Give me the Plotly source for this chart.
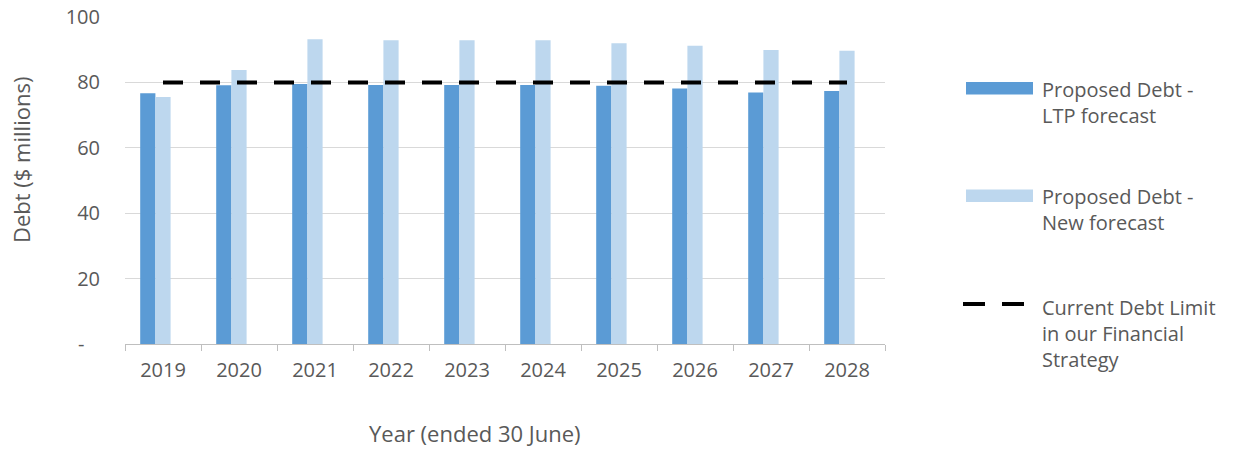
import plotly.graph_objects as go

years = ["2019", "2020", "2021", "2022", "2023", "2024", "2025", "2026", "2027", "2028"]
ltp_forecast = [76.7, 79.1, 79.5, 79.2, 79.2, 79.2, 79.0, 78.1, 76.9, 77.4]
new_forecast = [75.5, 83.8, 93.2, 92.9, 92.9, 92.9, 92.0, 91.2, 89.9, 89.7]
debt_limit = [80, 80, 80, 80, 80, 80, 80, 80, 80, 80]
y_ticks = [0, 20, 40, 60, 80, 100]
y_ticktext = ["-\u00a0\u00a0\u00a0", "20", "40", "60", "80", "100"]

DARK = "#5B9BD5"
LIGHT = "#BDD7EE"
TEXT = "#595959"
FONT = "Open Sans"

fig = go.Figure()
fig.add_trace(go.Bar(x=years, y=ltp_forecast, name="Proposed Debt - LTP forecast",
                     marker=dict(color=DARK, line=dict(width=0)), width=0.2, offset=-0.3))
fig.add_trace(go.Bar(x=years, y=new_forecast, name="Proposed Debt - New forecast",
                     marker=dict(color=LIGHT, line=dict(width=0)), width=0.2, offset=-0.1))
fig.add_trace(go.Scatter(x=years, y=debt_limit, mode="lines",
                         name="Current Debt Limit in our Financial Strategy",
                         line=dict(color="black", width=4, dash="20px,17px")))

fig.update_layout(
    width=1238, height=450,
    margin=dict(l=125, r=353, t=17, b=106, autoexpand=False),
    paper_bgcolor="white", plot_bgcolor="white",
    showlegend=False,
    font=dict(family=FONT, color=TEXT, size=20),
    xaxis=dict(type="category", showline=True, linecolor="#BFBFBF", linewidth=1,
               ticks="outside", tickson="boundaries", ticklen=6, tickcolor="#BFBFBF",
               tickfont=dict(size=20, color=TEXT), showgrid=False, ticklabelstandoff=8,
               automargin=False),
    yaxis=dict(range=[0, 100], tickvals=y_ticks, ticktext=y_ticktext, showgrid=True,
               gridcolor="#D9D9D9", gridwidth=1, zeroline=False, showline=False,
               ticks="", ticklabelstandoff=24, tickfont=dict(size=20, color=TEXT),
               automargin=False),
)

def px_x(p):
    return (p - 125) / 760.0

def px_y(p):
    return (344 - p) / 327.0

# axis titles
fig.add_annotation(text="Year (ended 30 June)", xref="paper", yref="paper",
                   x=px_x(475), y=px_y(433), xanchor="center", yanchor="middle", showarrow=False,
                   font=dict(size=22, color=TEXT, family=FONT))
fig.add_annotation(text="Debt ($ millions)", xref="paper", yref="paper",
                   x=px_x(21), y=px_y(160), xanchor="center", yanchor="middle", textangle=-90,
                   showarrow=False, font=dict(size=22, color=TEXT, family=FONT))

# manual legend
fig.add_shape(type="rect", xref="paper", yref="paper", x0=px_x(966), x1=px_x(1033),
              y0=px_y(94.5), y1=px_y(82), fillcolor=DARK, line=dict(width=0))
fig.add_shape(type="rect", xref="paper", yref="paper", x0=px_x(966), x1=px_x(1033),
              y0=px_y(202), y1=px_y(189.5), fillcolor=LIGHT, line=dict(width=0))
fig.add_shape(type="line", xref="paper", yref="paper", x0=px_x(963), x1=px_x(1025),
              y0=px_y(304), y1=px_y(304), line=dict(color="black", width=4, dash="22px,17px"))

legend_texts = [
    ("Proposed Debt -<br>LTP forecast", 102),
    ("Proposed Debt -<br>New forecast", 210),
    ("Current Debt Limit<br>in our Financial<br>Strategy", 333),
]
for txt, yc in legend_texts:
    fig.add_annotation(text=txt, xref="paper", yref="paper", x=px_x(1040), y=px_y(yc),
                       xanchor="left", yanchor="middle", align="left", showarrow=False,
                       font=dict(size=20, color=TEXT, family=FONT))

fig.write_html("out.html")
